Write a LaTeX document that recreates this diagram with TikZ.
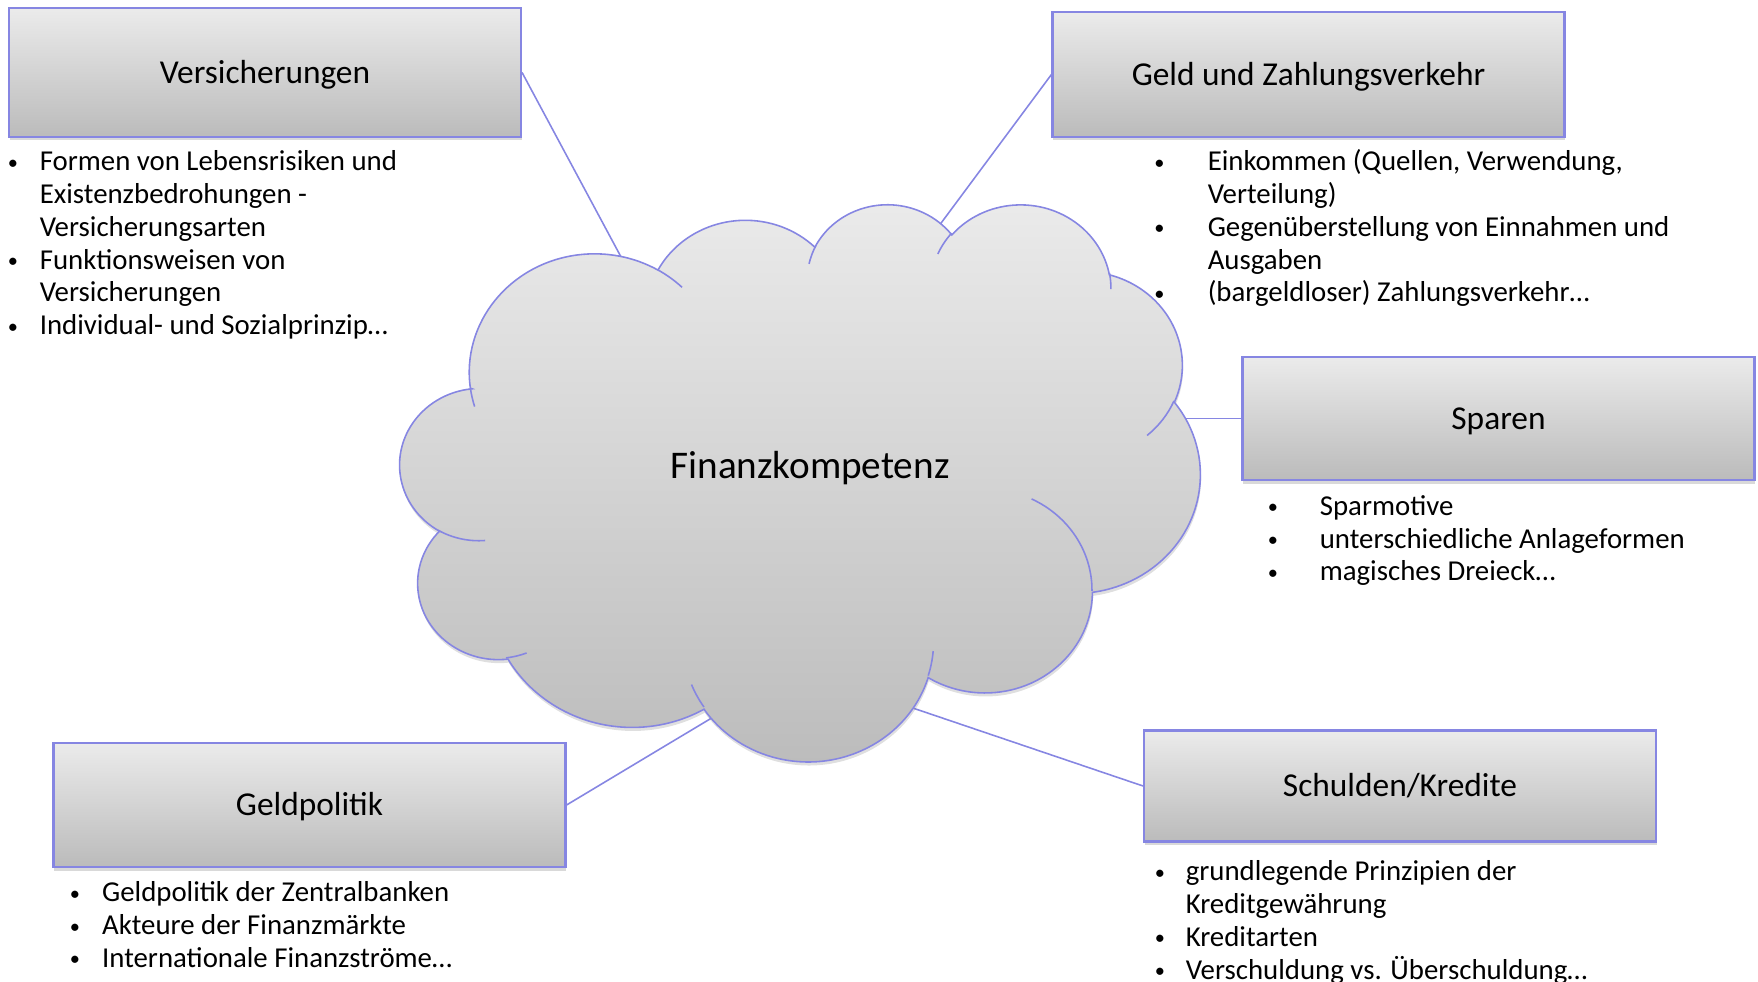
\documentclass[tikz,border=0pt]{standalone}
\usepackage{fontspec}
\setmainfont{Carlito}
\usetikzlibrary{shadows}
\definecolor{lila}{RGB}{134,134,226}
\definecolor{grauhell}{RGB}{235,235,235}
\definecolor{graudunkel}{RGB}{187,187,187}
\newlength{\einzug}
\newcommand{\punkt}{\makebox[\einzug][l]{\hspace{0.6pt}\raisebox{0.4pt}{\fontsize{5.8}{6}\selectfont\textbullet}}}
\newcommand{\weiter}{\hspace*{\einzug}}

\begin{document}
\begin{tikzpicture}[
  thema/.style={draw=lila,line width=0.6pt,top color=grauhell,bottom color=graudunkel,
    minimum width=5.12cm,inner sep=0pt,text height=0.87em,text depth=0.25em,
    font=\fontsize{9.5}{11}\selectfont,
    drop shadow={shadow xshift=0.2pt,shadow yshift=-1pt,opacity=0.3}},
  liste/.style={anchor=north west,inner sep=0pt,align=left,font=\fontsize{8.2}{9.33}\selectfont},
  einzug/.code={\setlength{\einzug}{#1}},
  verb/.style={draw=lila,line width=0.45pt},
  wolke/.style={draw=lila,line width=0.45pt,top color=grauhell,bottom color=graudunkel,
    drop shadow={shadow xshift=0.2pt,shadow yshift=-1pt,opacity=0.25}},
  falte/.style={draw=lila,line width=0.45pt}]
  \useasboundingbox (0,0) rectangle (17.58,9.82);

  % themes
  \node[thema,minimum height=1.29cm] (vers) at (2.65,9.095) {Versicherungen};
  \node[thema,minimum height=1.25cm] (geld) at (13.085,9.075) {Geld und Zahlungsverkehr};
  \node[thema,minimum height=1.23cm] (spar) at (14.985,5.635) {Sparen};
  \node[thema,minimum height=1.24cm] (gpol) at (3.095,1.77) {Geldpolitik};
  \node[thema,minimum height=1.11cm] (schu) at (14.0,1.96) {Schulden/Kredite};

  % bullet lists under the boxes
  \node[liste,einzug=9.7pt] (lvers) at (0.05,8.408) {\rule{0pt}{1em}\punkt Formen von Lebensrisiken und\\
    \weiter Existenzbedrohungen -\\ \weiter Versicherungsarten\\ \punkt Funktionsweisen von\\
    \weiter Versicherungen\\ \punkt Individual- und Sozialprinzip…};
  \node[liste,einzug=15.8pt] (lgeld) at (11.515,8.408) {\rule{0pt}{1em}\punkt Einkommen (Quellen, Verwendung,\\
    \weiter Verteilung)\\ \punkt Gegenüberstellung von Einnahmen und\\ \weiter Ausgaben\\
    \punkt (bargeldloser) Zahlungsverkehr…};
  \node[liste,einzug=15.4pt] (lspar) at (12.65,4.963) {\rule{0pt}{1em}\punkt Sparmotive\\
    \punkt unterschiedliche Anlageformen\\ \punkt magisches Dreieck…};
  \node[liste,einzug=9.8pt] (lgpol) at (0.67,1.098) {\rule{0pt}{1em}\punkt Geldpolitik der Zentralbanken\\
    \punkt Akteure der Finanzmärkte\\ \punkt Internationale Finanzströme…};
  \node[liste,einzug=9.4pt] (lschu) at (11.52,1.308) {\rule{0pt}{1em}\punkt grundlegende Prinzipien der\\
    \weiter Kreditgewährung\\ \punkt Kreditarten\\ \punkt Verschuldung vs. Überschuldung…};

  % connectors end under the cloud
  \coordinate (wvers) at (6.28,7.12); \coordinate (wgeld) at (9.30,7.44);
  \coordinate (wspar) at (11.75,5.635); \coordinate (wgpol) at (7.30,2.75);
  \coordinate (wschu) at (8.95,2.80);
  \draw[verb] (vers.east) -- (wvers); \draw[verb] (geld.west) -- (wgeld);
  \draw[verb] (spar.west) -- (wspar); \draw[verb] (gpol.east) -- (wgpol);
  \draw[verb] (schu.west) -- (wschu);

  % cloud outline, eleven bumps
  \draw[wolke] (4.704,5.937)
    arc[start angle=-172.25,end angle=-300.36,x radius=1.2537,y radius=1.1849]
    arc[start angle=152.04,end angle=45.45,x radius=0.9901,y radius=0.9370]
    arc[start angle=153.50,end angle=37.33,x radius=0.8104,y radius=0.7665]
    arc[start angle=139.72,end angle=10.21,x radius=0.9017,y radius=0.8503]
    arc[start angle=74.77,end angle=-23.21,x radius=0.9901,y radius=0.9377]
    arc[start angle=37.52,end angle=-81.86,x radius=1.2578,y radius=1.1888]
    arc[start angle=-0.46,end angle=-121.98,x radius=1.0740,y radius=1.0143]
    arc[start angle=-16.84,end angle=-146.21,x radius=1.2535,y radius=1.1881]
    arc[start angle=-59.99,end angle=-150.18,x radius=1.4332,y radius=1.3594]
    arc[start angle=-83.31,end angle=-223.11,x radius=0.8094,y radius=0.7630]
    arc[start angle=-120.35,end angle=-264.11,x radius=0.8066,y radius=0.7665] -- cycle;
  % inner folds
  \draw[falte] (4.8512,4.4149) arc[start angle=-85.55,end angle=-120.35,x radius=0.8066,y radius=0.7665];
  \draw[falte] (5.2662,3.2903) arc[start angle=-68.24,end angle=-83.31,x radius=0.8094,y radius=0.7630];
  \draw[falte] (7.0391,2.7499) arc[start angle=-146.21,end angle=-158.47,x radius=1.2535,y radius=1.1881];
  \draw[falte] (9.3317,3.3094) arc[start angle=-4.74,end angle=-16.84,x radius=1.2535,y radius=1.1881];
  \draw[falte] (10.3160,4.8304) arc[start angle=64.03,end angle=-0.46,x radius=1.0740,y radius=1.0143];
  \draw[falte] (11.7397,5.8103) arc[start angle=-23.21,end angle=-49.65,x radius=0.9901,y radius=0.9377];
  \draw[falte] (11.0948,7.0904) arc[start angle=10.21,end angle=-0.82,x radius=0.9017,y radius=0.8503];
  \draw[falte] (9.3783,7.2805) arc[start angle=156.29,end angle=139.72,x radius=0.9017,y radius=0.8503];
  \draw[falte] (8.0904,7.1814) arc[start angle=167.73,end angle=153.50,x radius=0.8104,y radius=0.7665];
  \draw[falte] (6.5791,7.1206) arc[start angle=59.64,end angle=45.76,x radius=1.2537,y radius=1.1849];
  \draw[falte] (4.7462,5.7542) arc[start angle=-163.19,end angle=-172.25,x radius=1.2537,y radius=1.1849];

  \node[anchor=base,font=\fontsize{11.15}{13}\selectfont] (fk) at (8.10,5.035) {Finanzkompetenz};
\end{tikzpicture}
\end{document}
